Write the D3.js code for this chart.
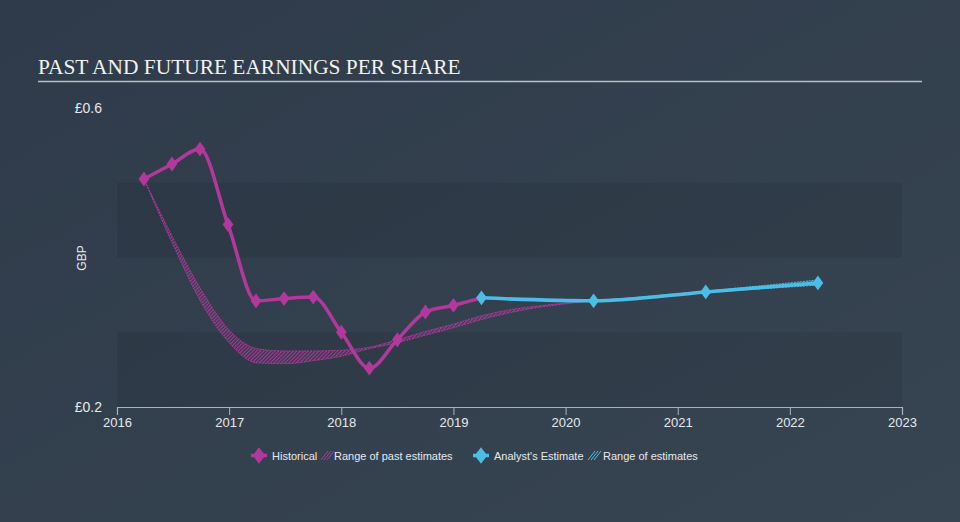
<!DOCTYPE html>
<html><head><meta charset="utf-8">
<script src="https://cdn.jsdelivr.net/npm/d3@7"></script>
<style>html,body{margin:0;padding:0;background:#333f4f;}svg{display:block;}</style>
</head><body>
<script>
// ---- data ----
const histDates = [2016.24, 2016.49, 2016.74, 2016.99, 2017.24, 2017.49, 2017.75, 2018.0, 2018.25, 2018.5, 2018.75, 2019.0, 2019.25];
const histValues = [0.505, 0.525, 0.545, 0.444, 0.342, 0.345, 0.347, 0.300, 0.252, 0.290, 0.327, 0.336, 0.346];
const estDates = [2019.25, 2020.25, 2021.25, 2022.25];
const estValues = [0.346, 0.342, 0.354, 0.366];
const pastRangeDates = [2016.24, 2016.5, 2016.75, 2017.0, 2017.25, 2017.5, 2017.75, 2018.0, 2018.25, 2018.5, 2018.75, 2019.0, 2019.25, 2019.5, 2019.75, 2020.0, 2020.25];
const pastRangeHigh = [0.505, 0.426, 0.357, 0.303, 0.278, 0.275, 0.275, 0.276, 0.280, 0.290, 0.301, 0.311, 0.322, 0.330, 0.335, 0.339, 0.342];
const pastRangeLow  = [0.505, 0.417, 0.340, 0.286, 0.259, 0.258, 0.262, 0.268, 0.278, 0.286, 0.296, 0.306, 0.317, 0.326, 0.333, 0.338, 0.342];
const futRangeDates = [2020.25, 2021.25, 2022.25];
const futRangeHigh = [0.342, 0.355, 0.370];
const futRangeLow  = [0.342, 0.353, 0.363];
const xTicks = [2016, 2017, 2018, 2019, 2020, 2021, 2022, 2023];
const yTicks = [0.2, 0.6];
const bands = [[0.2, 0.3], [0.4, 0.5]];

const W = 960, H = 522;
const MAG = "#b3389e", BLUE = "#4bbde6";
const svg = d3.select("body").append("svg").attr("width", W).attr("height", H);
const defs = svg.append("defs");
const g0 = defs.append("linearGradient").attr("id","bg").attr("x1","0").attr("y1","0").attr("x2","1").attr("y2","1");
g0.append("stop").attr("offset","0").attr("stop-color","#2f3b4a");
g0.append("stop").attr("offset","1").attr("stop-color","#374451");
svg.append("rect").attr("width",W).attr("height",H).attr("fill","url(#bg)");

function hatch(id, color){
  const p = defs.append("pattern").attr("id",id).attr("patternUnits","userSpaceOnUse")
    .attr("width",2.6).attr("height",2.6).attr("patternTransform","rotate(45)");
  p.append("line").attr("x1",0.6).attr("y1",0).attr("x2",0.6).attr("y2",2.6).attr("stroke",color).attr("stroke-width",1.1);
}
hatch("hm", MAG); hatch("hb", BLUE);

const x = d3.scaleLinear().domain([2016, 2023]).range([117, 902]);
const y = d3.scaleLinear().domain([0.2, 0.6]).range([407, 108]);

// title
svg.append("text").attr("x",38).attr("y",74).text("PAST AND FUTURE EARNINGS PER SHARE")
  .attr("font-family","'Liberation Serif', 'Times New Roman', serif").attr("font-size",21.4).attr("fill","#f2f2f2");
svg.append("line").attr("x1",38).attr("x2",922).attr("y1",81.5).attr("y2",81.5).attr("stroke","#b8bfc8").attr("stroke-width",1.5);

// bands
svg.selectAll("rect.band").data(bands).enter().append("rect").attr("class","band")
  .attr("x",x(2016)).attr("width",x(2023)-x(2016))
  .attr("y",d=>y(d[1])).attr("height",d=>y(d[0])-y(d[1]))
  .attr("fill","#000").attr("fill-opacity",0.07);

// y labels
svg.selectAll("text.yl").data(yTicks).enter().append("text").attr("class","yl")
  .attr("x",102).attr("y",d=>y(d)+5).attr("text-anchor","end")
  .attr("font-family","'Liberation Sans', Arial, sans-serif").attr("font-size",14).attr("fill","#e6e9ee")
  .text(d=>"£"+d3.format(".1f")(d));
svg.append("text").attr("transform","translate(86,258) rotate(-90)").attr("text-anchor","middle")
  .attr("font-family","'Liberation Sans', Arial, sans-serif").attr("font-size",12).attr("fill","#e6e9ee").text("GBP");

// x axis
const ax = svg.append("g").attr("transform","translate(0,407)")
  .call(d3.axisBottom(x).tickValues(xTicks).tickFormat(d3.format("d")).tickSize(8).tickPadding(3));
ax.select(".domain").attr("stroke","#a8b4c2").attr("stroke-width",1.2);
ax.selectAll(".tick line").attr("stroke","#a8b4c2");
ax.selectAll(".tick text").attr("fill","#e6e9ee").attr("font-size",13)
  .attr("font-family","'Liberation Sans', Arial, sans-serif");

// ranges
function rangeArea(dates, hi, lo){
  return d3.area().x((d,i)=>x(dates[i])).y0((d,i)=>y(lo[i])).y1((d,i)=>y(hi[i])).curve(d3.curveMonotoneX)(dates);
}
function rangeLine(dates, v){
  return d3.line().x((d,i)=>x(dates[i])).y((d,i)=>y(v[i])).curve(d3.curveMonotoneX)(dates);
}
[[pastRangeDates,pastRangeHigh,pastRangeLow,"hm",MAG],[futRangeDates,futRangeHigh,futRangeLow,"hb",BLUE]].forEach(r=>{
  svg.append("path").attr("d",rangeArea(r[0],r[1],r[2])).attr("fill","url(#"+r[3]+")");
  svg.append("path").attr("d",rangeLine(r[0],r[1])).attr("fill","none").attr("stroke",r[4]).attr("stroke-width",0.9).attr("stroke-dasharray","2,1");
  svg.append("path").attr("d",rangeLine(r[0],r[2])).attr("fill","none").attr("stroke",r[4]).attr("stroke-width",0.9).attr("stroke-dasharray","2,1");
});

// lines
const line = d3.line().x(d=>x(d[0])).y(d=>y(d[1])).curve(d3.curveMonotoneX);
const hist = histDates.map((d,i)=>[d,histValues[i]]);
const est = estDates.map((d,i)=>[d,estValues[i]]);
svg.append("path").attr("d",line(hist)).attr("fill","none").attr("stroke",MAG).attr("stroke-width",3.5);
svg.append("path").attr("d",line(est)).attr("fill","none").attr("stroke",BLUE).attr("stroke-width",3.5);
const diamond = d3.symbol().type(d3.symbolDiamond).size(64);
svg.selectAll("path.hm").data(hist.slice(0,-1)).enter().append("path").attr("class","hm")
  .attr("d",diamond).attr("transform",d=>`translate(${x(d[0])},${y(d[1])}) scale(1.25,1)`).attr("fill",MAG);
svg.selectAll("path.em").data(est).enter().append("path").attr("class","em")
  .attr("d",diamond).attr("transform",d=>`translate(${x(d[0])},${y(d[1])}) scale(1.25,1)`).attr("fill",BLUE);

// legend
const lg = svg.append("g").attr("font-family","'Liberation Sans', Arial, sans-serif").attr("font-size",11).attr("fill","#e6e9ee");
function legMarker(cx, color){
  lg.append("line").attr("x1",cx-8).attr("x2",cx+8).attr("y1",455.5).attr("y2",455.5).attr("stroke",color).attr("stroke-width",3.5);
  lg.append("path").attr("d",d3.symbol().type(d3.symbolDiamond).size(80)).attr("transform",`translate(${cx},455.5) scale(1.3,1)`).attr("fill",color);
}
function legHatch(x0, color){
  for(let k=0;k<3;k++) lg.append("line").attr("x1",x0+k*3).attr("y1",460).attr("x2",x0+k*3+7).attr("y2",451).attr("stroke",color).attr("stroke-width",1);
}
legMarker(259, MAG);
lg.append("text").attr("x",272).attr("y",459.5).text("Historical");
legHatch(321, MAG);
lg.append("text").attr("x",334).attr("y",459.5).text("Range of past estimates");
legMarker(481, BLUE);
lg.append("text").attr("x",494).attr("y",459.5).text("Analyst's Estimate");
legHatch(588, BLUE);
lg.append("text").attr("x",603).attr("y",459.5).text("Range of estimates");
</script>
</body></html>
